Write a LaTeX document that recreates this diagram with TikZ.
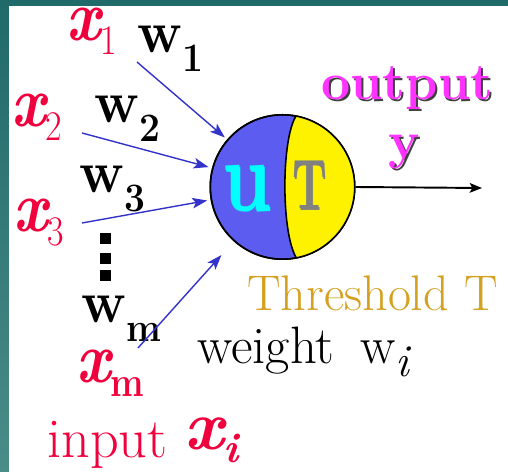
\documentclass[tikz,border=0pt]{standalone}
\usepackage{fontspec}
\usetikzlibrary{arrows.meta}

\definecolor{inred}{RGB}{240,0,60}
\definecolor{outmag}{RGB}{255,51,255}
\definecolor{bodyblue}{RGB}{92,92,240}
\definecolor{arrblue}{RGB}{51,51,204}
\definecolor{thrgold}{RGB}{212,160,32}
\definecolor{tealdark}{RGB}{32,106,106}
\definecolor{teallight}{RGB}{74,140,136}
\definecolor{aqua}{RGB}{0,255,255}

% text with an offset copy behind it
\newcommand{\shtext}[4]{\makebox[0pt][l]{\hspace*{#1}\raisebox{#2}{\color{#3}#4}}#4}
\newcommand{\xsub}[1]{\raisebox{-7.5pt}{\fontsize{24}{24}\selectfont\upshape\mdseries #1}}
\newcommand{\wsub}[1]{\raisebox{-10.5pt}{\fontsize{23}{23}\selectfont #1}}

\tikzset{
    xlab/.style    = {anchor=base west, inner sep=0pt, text=inred, xscale=0.85,
                      font=\fontsize{41}{41}\selectfont\bfseries\itshape},
    wlab/.style    = {anchor=base west, inner sep=0pt, text=black, xscale=0.92,
                      font=\fontsize{34}{34}\selectfont\bfseries},
    plainlab/.style= {anchor=base west, inner sep=0pt,
                      font=\fontsize{30}{30}\selectfont},
    inarrow/.style = {-{Stealth[length=8.5pt,width=6pt,inset=2pt]}, draw=arrblue, line width=0.8pt},
    outarrow/.style= {-{Stealth[length=7pt,width=5.5pt,inset=1.5pt]}, draw=black, line width=1.1pt},
    neuronbody/.style = {circle, draw=black, line width=0.9pt, fill=bodyblue,
                      minimum size=82.2pt, inner sep=0pt}
}

\begin{document}
\begin{tikzpicture}[x=0.02cm, y=-0.02cm]
    \useasboundingbox (0,0) rectangle (508,472);

    % --- frame ---
    \shade[top color=tealdark, bottom color=teallight] (0,0) rectangle (508,472);
    \fill[white] (9,6) rectangle (508,472);

    % --- neuron ---
    \node[neuronbody] (neuron) at (282.5,187) {};
    \begin{scope}
        \clip (neuron.center) circle[radius=41.1pt];
        \fill[yellow] (297,100) -- (296,116) .. controls (281,140) and (281,235) .. (297,259)
            -- (298,280) -- (370,280) -- (370,100) -- cycle;
        \draw[line width=0.9pt] (297,100) -- (296,116) .. controls (281,140) and (281,235) .. (297,259) -- (298,280);
    \end{scope}
    \draw[line width=0.9pt] (neuron.center) circle[radius=41.1pt];

    \node[inner sep=0pt, xscale=0.8, font=\fontsize{56}{56}\selectfont\bfseries] (uval) at (247,189)
        {\shtext{1pt}{-1pt}{white}{\color{aqua}u}};
    \node[inner sep=0pt, xscale=0.62, font=\fontsize{40}{40}\selectfont\bfseries] (thr) at (311,186)
        {\shtext{-1.6pt}{1.3pt}{black}{\color{gray}T}};

    % --- inputs ---
    \node[xlab] (x1) at (66,41)  {x\xsub{1}};
    \node[xlab] (x2) at (11,127) {x\xsub{2}};
    \node[xlab] (x3) at (13,232) {x\xsub{3}};
    \node[xlab] (xm) at (76,383) {x\xsub{\bfseries m}};

    \node[wlab] (w1) at (137,53)  {w\wsub{1}};
    \node[wlab] (w2) at (94,123)  {w\wsub{2}};
    \node[wlab] (w3) at (79,193)  {w\wsub{3}};
    \node[wlab] (wm) at (81,323)  {w\wsub{m}};

    \foreach \yy in {239,259,276}
        \fill (99.5,\yy-5.5) rectangle ++(11,11);

    \coordinate (in1) at (137,62);
    \coordinate (in2) at (82,133);
    \coordinate (in3) at (82,223);
    \coordinate (inm) at (138,348);

    \draw[inarrow, shorten >=1.7pt] (in1) -- (neuron);
    \draw[inarrow, shorten >=2pt]   (in2) -- (neuron);
    \draw[inarrow, shorten >=2pt]   (in3) -- (neuron);
    \draw[inarrow, shorten >=10.5pt] (inm) -- (neuron);

    % --- output ---
    \coordinate (yend) at (482,188);
    \draw[outarrow] (neuron.east) -- (yend);
    \node[anchor=base west, inner sep=0pt, text=outmag, font=\fontsize{29.5}{29.5}\selectfont\bfseries]
        (outlab) at (321,100) {\shtext{1pt}{-1pt}{black!75}{output}};
    \node[anchor=base west, inner sep=0pt, text=outmag, font=\fontsize{30}{30}\selectfont\bfseries]
        (ylab) at (388,159) {\shtext{1pt}{-1pt}{black!75}{y}};

    % --- captions ---
    \node[plainlab, text=thrgold, font=\fontsize{28.5}{28.5}\selectfont] (thrlab) at (247,311) {Threshold T};
    \node[plainlab] (wlab) at (197,364)
        {weight\hspace{0.5em}w\raisebox{-7pt}{\fontsize{26}{26}\selectfont\itshape i}};
    \node[plainlab, text=inred, font=\fontsize{32}{32}\selectfont] (inlab) at (47,458)
        {input\hspace{0.3em}\raisebox{5pt}{\bfseries\itshape\fontsize{40}{40}\selectfont x\xsub{\bfseries\itshape i}}};
\end{tikzpicture}
\end{document}
